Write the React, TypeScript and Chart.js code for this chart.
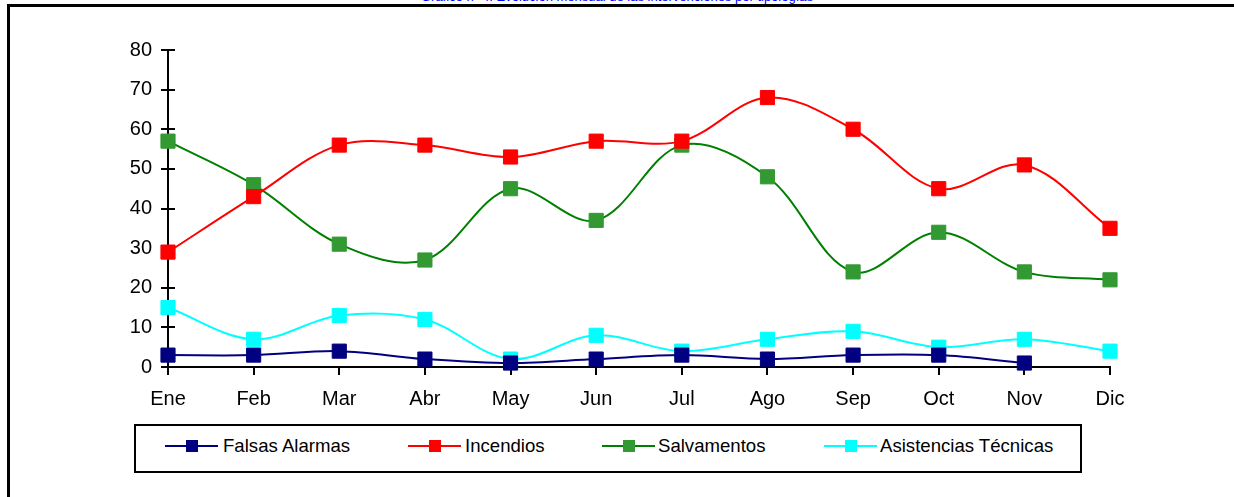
import React, { useEffect, useRef } from "react";
import { Chart, registerables } from "chart.js";

Chart.register(...registerables);

const months = ["Ene", "Feb", "Mar", "Abr", "May", "Jun", "Jul", "Ago", "Sep", "Oct", "Nov", "Dic"];
const falsasAlarmas = [3, 3, 4, 2, 1, 2, 3, 2, 3, 3, 1, null];
const incendios = [29, 43, 56, 56, 53, 57, 57, 68, 60, 45, 51, 35];
const salvamentos = [57, 46, 31, 27, 45, 37, 56, 48, 24, 34, 24, 22];
const asistencias = [15, 7, 13, 12, 2, 8, 4, 7, 9, 5, 7, 4];
const yTicks = [0, 10, 20, 30, 40, 50, 60, 70, 80];

const FONT = "'Liberation Sans', Arial, sans-serif";

const seriesInfo = [
  { label: "Falsas Alarmas", data: falsasAlarmas, line: "#000080", fill: "#000080" },
  { label: "Incendios", data: incendios, line: "#FF0000", fill: "#FF0000" },
  { label: "Salvamentos", data: salvamentos, line: "#008000", fill: "#339933" },
  { label: "Asistencias Técnicas", data: asistencias, line: "#00FFFF", fill: "#00FFFF" },
];

const legendPos = [
  { x1: 165, x2: 218, tx: 223 },
  { x1: 408, x2: 461, tx: 465 },
  { x1: 602, x2: 655, tx: 658 },
  { x1: 824, x2: 877, tx: 880 },
];

const yTickPlugin = {
  id: "yCrossTicks",
  beforeDatasetsDraw(chart: any) {
    const y = chart.scales.y;
    const ctx = chart.ctx;
    const x0 = chart.chartArea.left;
    ctx.save();
    ctx.strokeStyle = "#000";
    ctx.lineWidth = 2;
    yTicks.forEach((v) => {
      const py = Math.round(y.getPixelForValue(v));
      ctx.beginPath();
      ctx.moveTo(x0 - 7, py);
      ctx.lineTo(x0 + 7, py);
      ctx.stroke();
    });
    ctx.restore();
  },
};

export default function App() {
  const ref = useRef<HTMLCanvasElement | null>(null);
  useEffect(() => {
    if (!ref.current) return;
    const chart = new Chart(ref.current, {
      type: "line",
      data: {
        labels: months,
        datasets: seriesInfo.map((s) => ({
          label: s.label,
          data: s.data as any,
          borderColor: s.line,
          backgroundColor: s.fill,
          borderWidth: 2,
          tension: 0.35,
          pointStyle: "rect",
          pointRadius: 10,
          pointBackgroundColor: s.fill,
          pointBorderColor: s.fill,
          pointBorderWidth: 1,
          spanGaps: false,
          clip: false as any,
        })),
      },
      options: {
        responsive: false,
        animation: false,
        layout: { padding: { left: 108, right: 124, top: 50, bottom: 70 } },
        plugins: { legend: { display: false }, tooltip: { enabled: false }, title: { display: false } },
        scales: {
          x: {
            offset: false,
            afterFit: (s: any) => { s.height = 60; },
            grid: { drawOnChartArea: false, drawTicks: true, tickLength: 8, color: "#000", lineWidth: 2 },
            border: { display: true, color: "#000", width: 2 },
            ticks: { color: "#000", font: { family: FONT, size: 20 }, padding: 12, maxRotation: 0, autoSkip: false },
          },
          y: {
            min: 0,
            max: 80,
            afterFit: (s: any) => { s.width = 60; },
            grid: { display: false, drawTicks: false },
            border: { display: true, color: "#000", width: 2 },
            ticks: { stepSize: 10, color: "#000", font: { family: FONT, size: 20 }, padding: 16 },
          },
        },
      },
      plugins: [yTickPlugin],
    });
    return () => chart.destroy();
  }, []);

  return (
    <div style={{ position: "absolute", left: 0, top: 0, width: 1234, height: 497, overflow: "hidden", background: "#fff" }}>
      <div style={{ position: "absolute", left: 0, top: -10, width: 1234, textAlign: "center", fontFamily: FONT, fontSize: 13, lineHeight: 1, color: "#0000FF", whiteSpace: "nowrap" }}>
        Gráfico nº 4. Evolución mensual de las intervenciones por tipologías
      </div>
      <canvas ref={ref} width={1234} height={497} style={{ position: "absolute", left: 0, top: 0, width: 1234, height: 497 }} />
      <div style={{ position: "absolute", left: 7, top: 4, width: 1227, height: 3, background: "#000" }} />
      <div style={{ position: "absolute", left: 7, top: 4, width: 3, height: 493, background: "#000" }} />
      <div style={{ position: "absolute", left: 134, top: 424, width: 948 - 4, height: 49 - 4, border: "2px solid #000", boxSizing: "content-box", background: "#fff" }} />
      {seriesInfo.map((s, i) => {
        const p = legendPos[i];
        const cx = (p.x1 + p.x2) / 2;
        return (
          <React.Fragment key={s.label}>
            <div style={{ position: "absolute", left: p.x1, top: 445, width: p.x2 - p.x1, height: 2, background: s.line }} />
            <div style={{ position: "absolute", left: cx - 6, top: 440, width: 12, height: 12, background: s.fill }} />
            <div style={{ position: "absolute", left: p.tx, top: 437, fontFamily: FONT, fontSize: 18.6, lineHeight: 1, color: "#000", whiteSpace: "nowrap" }}>
              {s.label}
            </div>
          </React.Fragment>
        );
      })}
    </div>
  );
}
